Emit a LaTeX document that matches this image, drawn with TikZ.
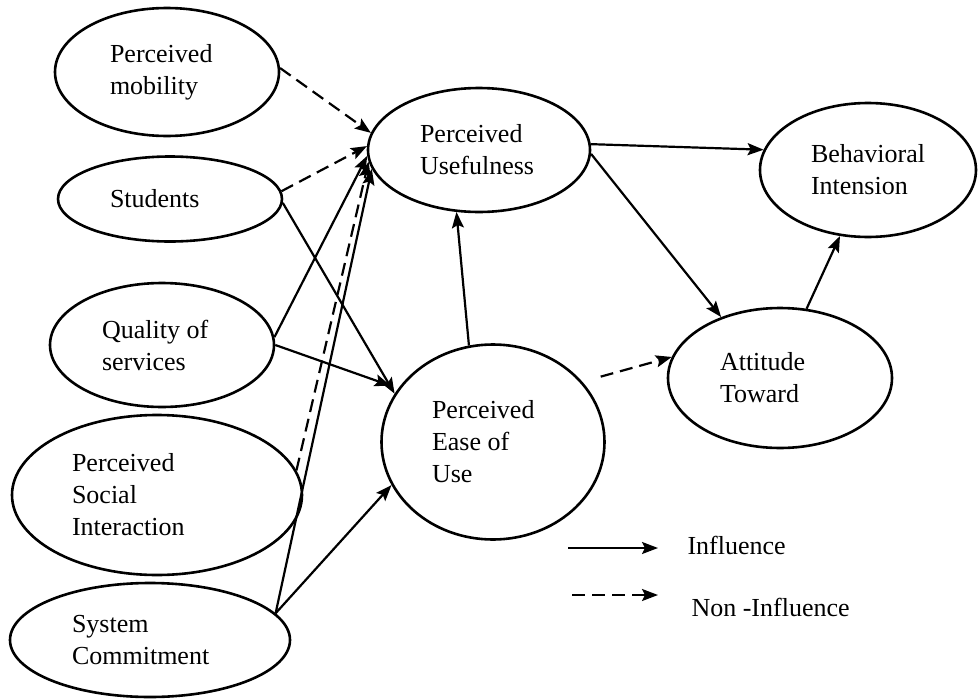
\documentclass[tikz,border=0pt]{standalone}
\usepackage{fontspec}
\setmainfont{Liberation Serif}
\usetikzlibrary{arrows.meta,shapes.geometric}

\begin{document}
\begin{tikzpicture}[x=1pt,y=-1pt,
    construct/.style={draw, ellipse, line width=2.6pt, inner sep=0pt, align=flush left,
      font=\fontsize{26}{32}\selectfont},
    infl/.style={line width=2.2pt, -{Stealth[length=16pt,width=12pt,inset=3pt]}},
    noinfl/.style={infl, dash pattern=on 13pt off 7pt},
    legtext/.style={anchor=west, font=\fontsize{26}{32}\selectfont}]
    \useasboundingbox (0,0) rectangle (978,699);
    % constructs
    \node [construct, minimum width=224pt, minimum height=128pt, text width=114pt] (mob) at (167,72) {Perceived\\mobility};
    \node [construct, minimum width=224pt, minimum height=85pt, text width=120pt] (stu) at (170,199) {Students};
    \node [construct, minimum width=224pt, minimum height=124pt, text width=120pt] (qos) at (162,345) {Quality of\\services};
    \node [construct, minimum width=290pt, minimum height=160pt, text width=170pt] (psi) at (157,495) {Perceived\\Social\\Interaction};
    \node [construct, minimum width=280pt, minimum height=114pt, text width=156pt] (sc) at (150,640) {System\\Commitment};
    \node [construct, minimum width=222pt, minimum height=124pt, text width=118pt] (pu) at (479,150) {Perceived\\Usefulness};
    \node [construct, minimum width=223pt, minimum height=195pt, text width=122pt] (peou) at (493,442) {Perceived\\Ease of\\Use};
    \node [construct, minimum width=216pt, minimum height=134pt, text width=114pt] (bi) at (868,170) {Behavioral\\Intension};
    \node [construct, minimum width=224pt, minimum height=140pt, text width=120pt] (at) at (780,378) {Attitude\\Toward};
    % paths
    \draw [noinfl] (mob.2) -- (pu.171);
    \draw [noinfl] (stu.4) -- (pu.178);
    \draw [infl] (stu.-2) -- ([xshift=-9pt,yshift=-12pt]peou.146);
    \draw [infl] (qos.4) -- (pu.183);
    \draw [infl] (qos.0) -- ([xshift=-13pt,yshift=-4pt]peou.146);
    \draw [noinfl] (psi.10) -- (pu.186);
    \draw [infl] (sc.12) -- (pu.190);
    \draw [infl] (sc.12) -- (peou.203);
    \draw [infl] (peou.104) -- (pu.250);
    \draw [infl] (pu.3) -- (bi.169);
    \draw [infl] (pu.-2) -- (at.134);
    \draw [noinfl, shorten <=19pt] (peou.34) -- (at.169);
    \draw [infl] (at.69) -- (bi.247);
    % legend
    \coordinate (lgsa) at (568,548);
    \coordinate (lgsb) at (658,548);
    \coordinate (lgda) at (572,595);
    \coordinate (lgdb) at (658,595);
    \draw [infl] (lgsa) -- (lgsb);
    \draw [noinfl] (lgda) -- (lgdb);
    \node [legtext] (lginf) at (684,545) {Influence};
    \node [legtext] (lgnon) at (688,607) {Non -Influence};
\end{tikzpicture}
\end{document}
